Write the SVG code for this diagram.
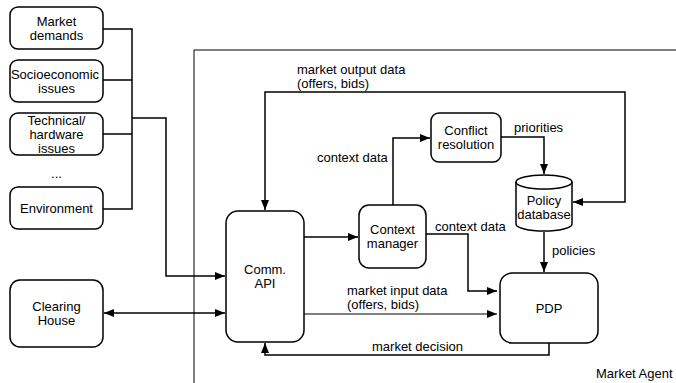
<svg xmlns="http://www.w3.org/2000/svg" width="676" height="383" viewBox="0 0 676 383">
  <defs>
    <marker id="arrow" viewBox="0 0 10 8" refX="10" refY="4" markerWidth="10" markerHeight="8" markerUnits="userSpaceOnUse" orient="auto-start-reverse">
      <path d="M0,0 L10,4 L0,8 Z" fill="#000"/>
    </marker>
    <style>
      .box { fill: #fff; stroke: #000; stroke-width: 1.5; }
      .lbl { font-family: "Liberation Sans", Arial, sans-serif; font-size: 13px; fill: #000; }
      .c { text-anchor: middle; }
      .wire { fill: none; stroke: #000; stroke-width: 1.5; }
      .thin { fill: none; stroke: #000; stroke-width: 1; }
    </style>
  </defs>
  <rect width="676" height="383" fill="#fff"/>

  <!-- Market Agent boundary -->
  <g id="market-agent">
    <path class="thin" d="M676,50 H194 V383"/>
    <text class="lbl" x="596" y="378">Market Agent</text>
  </g>

  <!-- connectors -->
  <g id="connectors">
    <path class="wire" d="M103,29 H132 V209 H103 M103,80 H132 M103,134 H132"/>
    <path class="wire" d="M132,118 H166 V276 H225" marker-end="url(#arrow)"/>
    <path class="wire" d="M104,313 H225" marker-start="url(#arrow)" marker-end="url(#arrow)"/>
    <path class="wire" d="M304,237 H358" marker-end="url(#arrow)"/>
    <path class="wire" d="M393,205 V138 H430" marker-end="url(#arrow)"/>
    <path class="wire" d="M501,137 H544 V174" marker-end="url(#arrow)"/>
    <path class="wire" d="M544,232 V272" marker-end="url(#arrow)"/>
    <path class="wire" d="M426,234 H468 V291 H497" marker-end="url(#arrow)"/>
    <path class="thin" d="M304,314 H497" marker-end="url(#arrow)"/>
    <path class="wire" d="M549,343 V355 H265 V343" marker-end="url(#arrow)"/>
    <path class="wire" d="M573,202 H625 V92 H265 V210" marker-start="url(#arrow)" marker-end="url(#arrow)"/>

    <text class="lbl" x="297" y="74">market output data</text>
    <text class="lbl" x="297" y="88">(offers, bids)</text>
    <text class="lbl" x="317" y="162">context data</text>
    <text class="lbl" x="514" y="132">priorities</text>
    <text class="lbl" x="435" y="231">context data</text>
    <text class="lbl" x="552" y="255">policies</text>
    <text class="lbl" x="347" y="295">market input data</text>
    <text class="lbl" x="347" y="309">(offers, bids)</text>
    <text class="lbl" x="372" y="351">market decision</text>
  </g>

  <!-- external influences -->
  <g id="market-demands">
    <rect class="box" x="10" y="7" width="93" height="42" rx="8"/>
    <text class="lbl c" x="56.5" y="26">Market</text>
    <text class="lbl c" x="56.5" y="40">demands</text>
  </g>
  <g id="socioeconomic">
    <rect class="box" x="10" y="60" width="93" height="42" rx="8"/>
    <text class="lbl c" x="55" y="79">Socioeconomic</text>
    <text class="lbl c" x="56.5" y="93">issues</text>
  </g>
  <g id="technical">
    <rect class="box" x="10" y="113" width="93" height="42" rx="8"/>
    <text class="lbl c" x="56.5" y="125">Technical/</text>
    <text class="lbl c" x="56.5" y="139">hardware</text>
    <text class="lbl c" x="56.5" y="153">issues</text>
  </g>
  <g id="ellipsis">
    <text class="lbl c" x="56.5" y="178">...</text>
  </g>
  <g id="environment">
    <rect class="box" x="10" y="187" width="93" height="42" rx="8"/>
    <text class="lbl c" x="56.5" y="213">Environment</text>
  </g>
  <g id="clearing-house">
    <rect class="box" x="10" y="280" width="93" height="67" rx="10"/>
    <text class="lbl c" x="56.5" y="311">Clearing</text>
    <text class="lbl c" x="56.5" y="325">House</text>
  </g>

  <!-- agent internals -->
  <g id="comm-api">
    <rect class="box" x="226" y="211" width="78" height="131" rx="12"/>
    <text class="lbl c" x="265" y="274">Comm.</text>
    <text class="lbl c" x="265" y="288">API</text>
  </g>
  <g id="context-manager">
    <rect class="box" x="359" y="205" width="67" height="63" rx="10"/>
    <text class="lbl c" x="392.5" y="234">Context</text>
    <text class="lbl c" x="392.5" y="248">manager</text>
  </g>
  <g id="conflict-resolution">
    <rect class="box" x="431" y="113" width="70" height="49" rx="8"/>
    <text class="lbl c" x="466" y="135">Conflict</text>
    <text class="lbl c" x="466" y="149">resolution</text>
  </g>
  <g id="policy-database">
    <path class="box" d="M516,182 V224 A28,7 0 0 0 572,224 V182 A28,7 0 0 0 516,182 Z"/>
    <path class="wire" d="M516,182 A28,7 0 0 0 572,182"/>
    <text class="lbl c" x="544" y="205">Policy</text>
    <text class="lbl c" x="544" y="219">database</text>
  </g>
  <g id="pdp">
    <rect class="box" x="500" y="273" width="98" height="70" rx="12"/>
    <text class="lbl c" x="549" y="313">PDP</text>
  </g>
</svg>
